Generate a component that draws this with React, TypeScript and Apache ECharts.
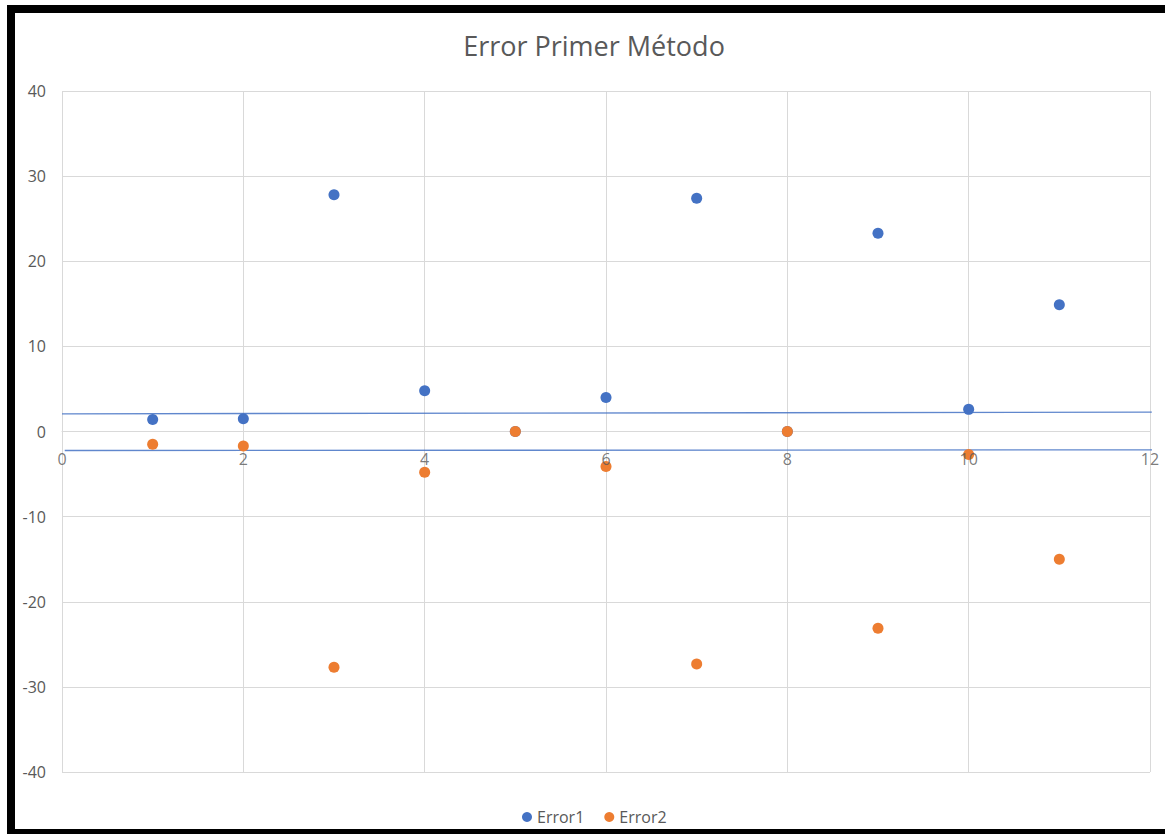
import React, { useEffect, useRef } from "react";
import * as echarts from "echarts";

// Sample index on the horizontal axis
const xValues = [1, 2, 3, 4, 5, 6, 7, 8, 9, 10, 11];
// Error of the first method, positive branch
const error1 = [1.4, 1.5, 27.8, 4.8, 0, 4.0, 27.4, 0, 23.3, 2.6, 14.9];
// Error of the first method, negative branch
const error2 = [-1.5, -1.7, -27.7, -4.8, 0, -4.1, -27.3, 0, -23.1, -2.7, -15.0];
// Horizontal tick labels, written along the zero line
const xTicks = [0, 2, 4, 6, 8, 10, 12];
// Band lines drawn across the plot (start and end points)
const upperBand: [number, number][] = [
  [0, 2.08],
  [12.02, 2.27],
];
const lowerBand: [number, number][] = [
  [0.03, -2.23],
  [12.08, -2.16],
];

const TEXT = "#595959";
const GRID = "#d9d9d9";
const FONT = "'Open Sans', 'Noto Sans', sans-serif";

export default function App() {
  const ref = useRef<HTMLDivElement>(null);

  useEffect(() => {
    if (!ref.current) return;
    const chart = echarts.init(ref.current, undefined, { renderer: "svg" });

    const pts = (ys: number[]) => xValues.map((x, i) => [x, ys[i]]);

    chart.setOption({
      animation: false,
      backgroundColor: "#ffffff",
      textStyle: { fontFamily: FONT },
      title: {
        text: "Error Primer Método",
        left: 589,
        top: 27,
        textAlign: "center",
        textStyle: {
          color: TEXT,
          fontSize: 27,
          fontWeight: "normal",
          fontFamily: FONT,
        },
      },
      legend: {
        left: 517,
        top: 804,
        data: ["Error1", "Error2"],
        icon: "circle",
        itemWidth: 10,
        itemHeight: 10,
        itemGap: 20,
        textStyle: { color: TEXT, fontSize: 16, fontFamily: FONT },
      },
      grid: { left: 62, right: 15, top: 91, bottom: 62, containLabel: false },
      xAxis: {
        type: "value",
        min: 0,
        max: 12,
        interval: 2,
        axisLine: { onZero: true, lineStyle: { color: GRID, width: 1 } },
        axisTick: { show: false },
        axisLabel: { show: false },
        splitLine: { show: true, lineStyle: { color: GRID, width: 1 } },
      },
      yAxis: {
        type: "value",
        min: -40,
        max: 40,
        interval: 10,
        axisLine: { show: false },
        axisTick: { show: false },
        axisLabel: { color: TEXT, fontSize: 16, fontFamily: FONT, margin: 16 },
        splitLine: { show: true, lineStyle: { color: GRID, width: 1 } },
      },
      graphic: [
        { type: "rect", shape: { x: 7, y: 5, width: 1158, height: 8 }, style: { fill: "#000" } },
        { type: "rect", shape: { x: 7, y: 5, width: 8, height: 829 }, style: { fill: "#000" } },
        { type: "rect", shape: { x: 7, y: 829, width: 1158, height: 5 }, style: { fill: "#000" } },
      ],
      series: [
        {
          name: "band-upper",
          type: "line",
          data: upperBand,
          symbol: "none",
          clip: false,
          silent: true,
          lineStyle: { color: "#4472C4", width: 1.3, opacity: 0.85 },
          z: 1,
        },
        {
          name: "band-lower",
          type: "line",
          data: lowerBand,
          symbol: "none",
          clip: false,
          silent: true,
          lineStyle: { color: "#4472C4", width: 1.3, opacity: 0.85 },
          z: 1,
        },
        {
          name: "Error1",
          type: "scatter",
          data: pts(error1),
          symbol: "circle",
          symbolSize: 11,
          itemStyle: { color: "#4472C4", opacity: 1 },
          z: 3,
        },
        {
          name: "Error2",
          type: "scatter",
          data: pts(error2),
          symbol: "circle",
          symbolSize: 11,
          itemStyle: { color: "#ED7D31", opacity: 1 },
          z: 4,
        },
        {
          // x tick labels sitting just under the zero line, above the markers
          name: "x-ticks",
          type: "scatter",
          data: xTicks.map((t) => [t, 0]),
          symbolSize: 0,
          clip: false,
          silent: true,
          z: 10,
          label: {
            show: true,
            position: "bottom",
            distance: 19,
            formatter: (p: any) => String(p.value[0]),
            color: TEXT,
            fontSize: 16,
            fontFamily: FONT,
          },
        },
      ],
    });

    return () => chart.dispose();
  }, []);

  return (
    <div
      ref={ref}
      style={{ position: "absolute", left: 0, top: 0, width: 1165, height: 834 }}
    />
  );
}
